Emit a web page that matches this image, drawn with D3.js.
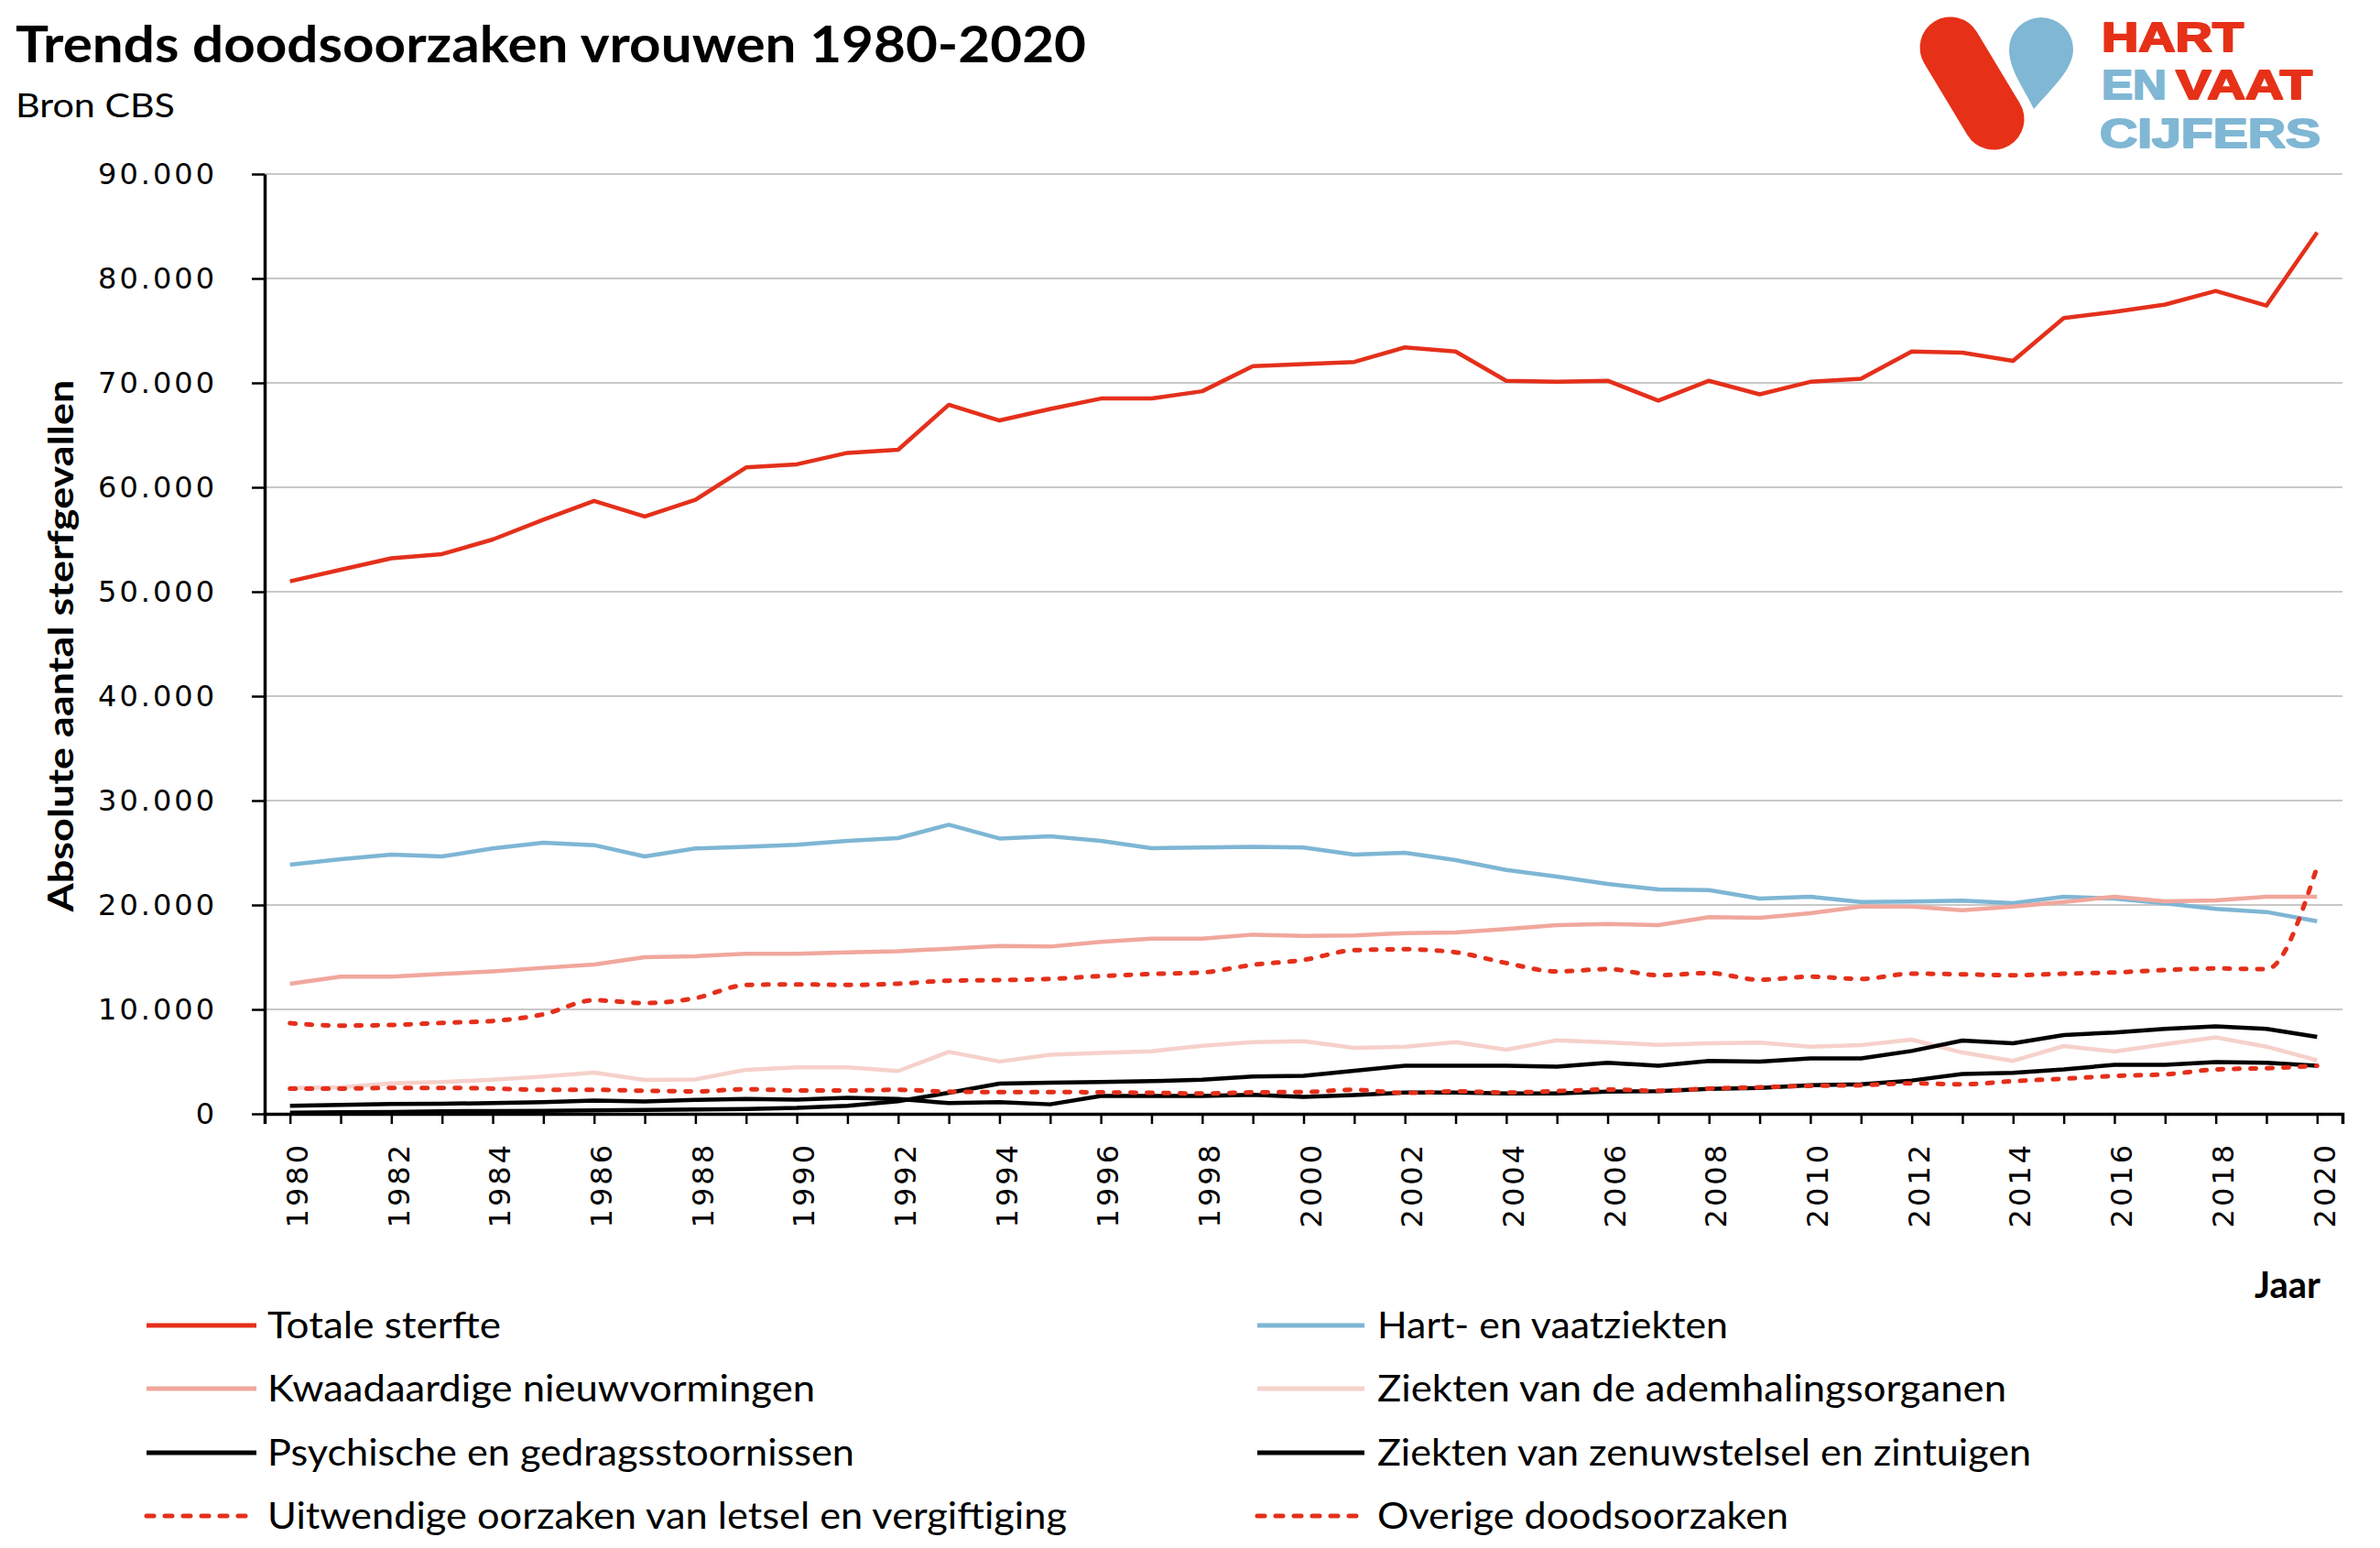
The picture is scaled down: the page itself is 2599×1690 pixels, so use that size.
<!DOCTYPE html>
<html>
<head>
<meta charset="utf-8">
<script src="https://cdn.jsdelivr.net/npm/d3@7"></script>
<style>
  html, body { margin: 0; padding: 0; background: #fff; }
  svg { display: block; }
</style>
</head>
<body>
<svg id="chart" width="2599" height="1690"></svg>
<script>
// ---------- DATA ----------
const years = [1980,1981,1982,1983,1984,1985,1986,1987,1988,1989,
               1990,1991,1992,1993,1994,1995,1996,1997,1998,1999,
               2000,2001,2002,2003,2004,2005,2006,2007,2008,2009,
               2010,2011,2012,2013,2014,2015,2016,2017,2018,2019,2020];
const xTickLabels = [1980,1982,1984,1986,1988,1990,1992,1994,1996,1998,2000,
                     2002,2004,2006,2008,2010,2012,2014,2016,2018,2020];
const yTicks = [0,10000,20000,30000,40000,50000,60000,70000,80000,90000];

const totaleSterfte = [51000,52100,53200,53600,55000,56900,58700,57200,58800,61900,
                       62200,63300,63600,67900,66400,67500,68500,68500,69200,71600,
                       71800,72000,73400,73000,70200,70100,70200,68300,70200,68900,
                       70100,70400,73000,72900,72100,76200,76800,77500,78800,77400,84400];
const hartVaat = [23860,24390,24820,24650,25410,25960,25730,24650,25410,25580,
                  25760,26140,26400,27690,26370,26580,26140,25440,25500,25580,
                  25500,24820,25000,24300,23360,22720,22020,21490,21430,20610,
                  20790,20290,20320,20410,20180,20790,20610,20150,19620,19330,18450];
const kwaadaardig = [12460,13130,13130,13390,13650,13980,14300,15000,15090,15320,
                     15320,15470,15580,15820,16080,16020,16460,16780,16780,17160,
                     17050,17080,17310,17370,17690,18070,18190,18070,18830,18770,
                     19210,19850,19850,19500,19850,20290,20790,20350,20440,20790,20790];
const ademhaling = [2480,2540,2920,3040,3270,3570,3950,3240,3300,4220,
                    4450,4450,4100,5930,5010,5660,5840,5990,6520,6870,
                    6960,6310,6430,6870,6140,7050,6840,6610,6760,6810,
                    6430,6580,7110,5870,5070,6490,5960,6670,7320,6430,5130];
const psychisch = [120,150,180,240,270,290,320,380,410,470,
                   560,770,1210,2010,2890,2980,3040,3130,3270,3570,
                   3650,4130,4600,4600,4600,4510,4900,4600,5070,5010,
                   5310,5310,6020,7020,6760,7550,7790,8140,8380,8140,7370];
const zenuwstelsel = [770,860,940,970,1030,1120,1270,1180,1330,1420,
                      1360,1530,1420,1030,1120,910,1710,1710,1710,1830,
                      1620,1800,2040,2040,1950,1950,2120,2180,2390,2480,
                      2740,2830,3190,3810,3920,4250,4690,4690,4960,4900,4600];
const uitwendig = [2420,2420,2480,2480,2420,2300,2300,2210,2150,2360,
                   2240,2240,2300,2120,2090,2090,2060,2010,1950,2060,
                   2090,2300,2010,2150,2040,2180,2330,2210,2420,2540,
                   2680,2740,2920,2830,3130,3360,3630,3780,4250,4370,4600];
const overige = [8680,8450,8510,8710,8890,9530,10880,10610,11080,12340,
                 12400,12340,12460,12750,12810,12920,13190,13390,13540,14270,
                 14740,15670,15760,15470,14440,13630,13860,13270,13480,12840,
                 13130,12920,13420,13360,13270,13420,13540,13770,13920,13860,23650];

const seriesNames = ["Totale sterfte","Hart- en vaatziekten","Kwaadaardige nieuwvormingen",
  "Ziekten van de ademhalingsorganen","Psychische en gedragsstoornissen",
  "Ziekten van zenuwstelsel en zintuigen","Uitwendige oorzaken van letsel en vergiftiging",
  "Overige doodsoorzaken"];
const seriesValues = [totaleSterfte, hartVaat, kwaadaardig, ademhaling, psychisch, zenuwstelsel, uitwendig, overige];
const seriesColors = ["#e4301b","#7eb6d4","#f1a79d","#f6d1cb","#000000","#000000","#e4301b","#e4301b"];
const seriesDotted = [false,false,false,false,false,false,true,true];

// ---------- LAYOUT ----------
const svg = d3.select("#chart");
const X0 = 289, X1 = 2558, Y0 = 1216, Y1 = 190;
const numFont = "'DejaVu Sans', sans-serif";
const txtFont = "Lato, 'Open Sans', sans-serif";

const x = d3.scalePoint().domain(years).range([X0, X1]).padding(0.5);
const y = d3.scaleLinear().domain([0, 90000]).range([Y0, Y1]);
const nl = d3.formatLocale({decimal: ",", thousands: ".", grouping: [3], currency: ["€",""]});
const fmt = nl.format(",d");

// gridlines
svg.append("g").selectAll("line").data(yTicks.filter(d => d > 0)).join("line")
  .attr("x1", X0).attr("x2", X1)
  .attr("y1", d => y(d)).attr("y2", d => y(d))
  .attr("stroke", "#c8c8c8").attr("stroke-width", 2);

// series lines
const lineLinear = d3.line().x((d, i) => x(years[i])).y(d => y(d));
const lineSmooth = d3.line().x((d, i) => x(years[i])).y(d => y(d)).curve(d3.curveMonotoneX);
const gLines = svg.append("g");
seriesValues.forEach((vals, k) => {
  gLines.append("path")
    .attr("d", (seriesDotted[k] ? lineSmooth : lineLinear)(vals))
    .attr("fill", "none")
    .attr("stroke", seriesColors[k])
    .attr("stroke-width", seriesDotted[k] ? 5 : 4.5)
    .attr("stroke-linejoin", "round")
    .attr("stroke-linecap", seriesDotted[k] ? "round" : "butt")
    .attr("stroke-dasharray", seriesDotted[k] ? "6,12" : null);
});

// y axis
const yAxis = svg.append("g").attr("transform", `translate(${X0},0)`)
  .call(d3.axisLeft(y).tickValues(yTicks).tickFormat(fmt).tickSize(14).tickSizeOuter(0).tickPadding(38));
yAxis.select(".domain").attr("stroke", "#000").attr("stroke-width", 3.5);
yAxis.selectAll(".tick line").attr("stroke", "#000").attr("stroke-width", 2.5);
yAxis.selectAll(".tick text").attr("font-family", numFont).attr("font-size", 32)
  .attr("letter-spacing", 3).attr("fill", "#000");

// x axis
const xAxis = svg.append("g").attr("transform", `translate(0,${Y0})`)
  .call(d3.axisBottom(x).tickValues(years).tickSize(11).tickSizeOuter(11)
    .tickFormat(d => xTickLabels.includes(d) ? String(d) : ""));
xAxis.select(".domain").attr("stroke", "#000").attr("stroke-width", 3.5);
xAxis.selectAll(".tick line").attr("stroke", "#000").attr("stroke-width", 2.5);
xAxis.selectAll(".tick text")
  .attr("font-family", numFont).attr("font-size", 32).attr("letter-spacing", 3).attr("fill", "#000")
  .attr("transform", "rotate(-90)")
  .attr("text-anchor", "end")
  .attr("x", -31).attr("y", 7).attr("dy", "0.365em");

// axis titles
svg.append("text")
  .attr("transform", `translate(80,705) rotate(-90)`)
  .attr("text-anchor", "middle")
  .attr("font-family", txtFont).attr("font-weight", 700).attr("font-size", 38)
  .attr("textLength", 581).attr("lengthAdjust", "spacingAndGlyphs")
  .text("Absolute aantal sterfgevallen");

svg.append("text")
  .attr("x", 2534).attr("y", 1417).attr("text-anchor", "end")
  .attr("font-family", txtFont).attr("font-weight", 700).attr("font-size", 40)
  .text("Jaar");

// title
svg.append("text").attr("x", 17).attr("y", 68)
  .attr("font-family", txtFont).attr("font-weight", 700).attr("font-size", 55)
  .attr("textLength", 1169).attr("lengthAdjust", "spacingAndGlyphs")
  .text("Trends doodsoorzaken vrouwen 1980-2020");
svg.append("text").attr("x", 17).attr("y", 128)
  .attr("font-family", txtFont).attr("font-size", 36)
  .attr("textLength", 174).attr("lengthAdjust", "spacingAndGlyphs")
  .text("Bron CBS");

// legend
const legendOrder = [0,2,4,6,1,3,5,7];
const legendRowY = [1447, 1516, 1586, 1655];
const legendCols = [{x1: 160, x2: 280, tx: 292}, {x1: 1373, x2: 1490, tx: 1504}];
const legendWidths = [255, 383, 598, 687, 641, 714, 873, 449];
const gLeg = svg.append("g");
legendOrder.forEach((k, idx) => {
  const col = legendCols[Math.floor(idx / 4)];
  const ly = legendRowY[idx % 4];
  gLeg.append("line")
    .attr("x1", col.x1).attr("x2", col.x2).attr("y1", ly).attr("y2", ly)
    .attr("stroke", seriesColors[k]).attr("stroke-width", 5)
    .attr("stroke-linecap", seriesDotted[k] ? "round" : "butt")
    .attr("stroke-dasharray", seriesDotted[k] ? "8,12" : null);
  gLeg.append("text")
    .attr("x", col.tx).attr("y", ly + 14)
    .attr("font-family", txtFont).attr("font-size", 40).attr("fill", "#000")
    .attr("textLength", legendWidths[k]).attr("lengthAdjust", "spacingAndGlyphs")
    .text(seriesNames[k]);
});

// logo
const logoRed = "#e63118", logoBlue = "#80b7d4";
const logoFont = "'Liberation Sans', Arial, sans-serif";
const gLogo = svg.append("g");
gLogo.append("line").attr("x1", 2130).attr("y1", 52).attr("x2", 2177).attr("y2", 130)
  .attr("stroke", logoRed).attr("stroke-width", 67).attr("stroke-linecap", "round");
gLogo.append("path")
  .attr("d", "M2221,119 C2210,96 2194,76 2194,54 A35,35 0 0 1 2264,54 C2264,76 2240,97 2221,119 Z")
  .attr("fill", logoBlue);
const logoText = (t, x0, yb, w, c) => gLogo.append("text")
  .attr("x", x0).attr("y", yb)
  .attr("font-family", logoFont).attr("font-weight", 700).attr("font-size", 45)
  .attr("fill", c).attr("stroke", c).attr("stroke-width", 2).attr("stroke-linejoin", "round")
  .attr("textLength", w).attr("lengthAdjust", "spacingAndGlyphs").text(t);
logoText("HART", 2295, 56, 155, logoRed);
logoText("EN", 2295, 108, 71, logoBlue);
logoText("VAAT", 2376, 108, 149, logoRed);
logoText("CIJFERS", 2293, 161, 241, logoBlue);
</script>
</body>
</html>
